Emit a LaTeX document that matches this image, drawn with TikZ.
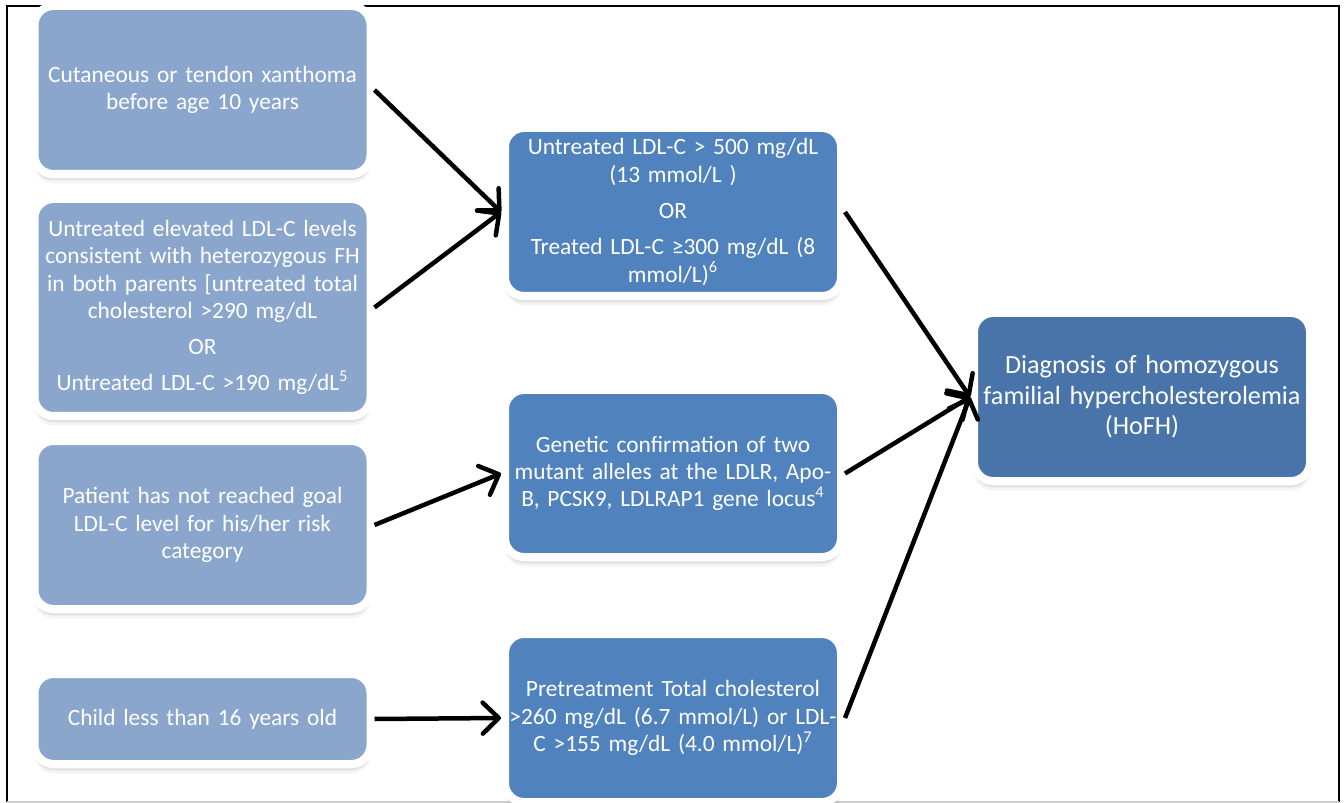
\documentclass[tikz,border=0pt]{standalone}
\usepackage{fontspec}
\setmainfont{Carlito}
\usetikzlibrary{positioning, arrows.meta, shadows}

\definecolor{critlight}{HTML}{8BA6CD}
\definecolor{critmid}{HTML}{5082BE}
\definecolor{critdark}{HTML}{4874AA}

\begin{document}
\begin{tikzpicture}[
    node distance=0.34cm,
    criteria block/.style={
      rectangle,
      draw=white,
      fill=critlight,
      line width=0.16cm,
      rounded corners=0.38cm,
      align=center,
      text width=6.7cm,
      minimum width=6.72cm,
      minimum height=3.36cm,
      inner xsep=0.01cm,
      text=white,
      font=\fontsize{13.3}{15.6}\selectfont,
      drop shadow={shadow xshift=0cm, shadow yshift=-0.13cm, opacity=0.14},
      drop shadow={shadow xshift=0cm, shadow yshift=-0.19cm, opacity=0.09}
    },
    criteria arrow/.style={
      -{Straight Barb[length=0.32cm, width=0.62cm, round]},
      line width=0.09cm,
      color=black
    }
  ]

    \useasboundingbox (0,0) rectangle (26.88,-16.06);

    % frame
    \draw[line width=0.04cm] (0.14,-16.04) -- (0.14,-0.12) -- (26.78,-0.12) -- (26.78,-16.04);
    \draw[line width=0.04cm, black!20] (0.14,-16.04) -- (26.78,-16.04);

    % left column
    \node[criteria block] (xanthoma) at (4.05,-1.8) {
      Cutaneous or tendon xanthoma\\
      before age 10 years
    };

    \node[criteria block, minimum height=4.34cm, below=of xanthoma] (parents) {
      Untreated elevated LDL-C levels\\
      consistent with heterozygous FH\\
      in both parents [untreated total\\
      cholesterol >290 mg/dL\\[5pt]
      OR\\[5pt]
      Untreated LDL-C >190 mg/dL\textsuperscript{5}
    };

    \node[criteria block, below=of parents] (goal) {
      Patient has not reached goal\\
      LDL-C level for his/her risk\\
      category
    };

    \node[criteria block, minimum height=1.8cm, below=1.14cm of goal] (child) {
      Child less than 16 years old
    };

    % middle column
    \node[criteria block, fill=critmid] (ldl) at (13.46,-4.24) {
      Untreated LDL-C > 500 mg/dL\\
      (13 mmol/L )\\[5pt]
      OR\\[5pt]
      Treated LDL-C ≥300 mg/dL (8\\
      mmol/L)\textsuperscript{6}
    };

    \node[criteria block, fill=critmid, minimum height=3.34cm, below=1.72cm of ldl] (genetic) {
      Genetic confirmation of two\\
      mutant alleles at the LDLR, Apo-\\
      B, PCSK9, LDLRAP1 gene locus\textsuperscript{4}
    };

    \node[criteria block, fill=critmid, below=1.38cm of genetic] (pretreat) {
      Pretreatment Total cholesterol\\
      >260 mg/dL (6.7 mmol/L) or LDL-\\
      C >155 mg/dL (4.0 mmol/L)\textsuperscript{7}
    };

    % diagnosis
    \node[criteria block, fill=critdark, font=\fontsize{14.9}{17.4}\selectfont] (hofh) at (22.84,-7.94) {
      Diagnosis of homozygous\\
      familial hypercholesterolemia\\
      (HoFH)
    };

    \draw[criteria arrow] (xanthoma.east) -- (ldl.west);
    \draw[criteria arrow] (parents.east) -- (ldl.west);
    \draw[criteria arrow] (goal.east) -- (genetic.west);
    \draw[criteria arrow] (child.east) -- (pretreat.west);

    \draw[criteria arrow] (ldl.east) -- (hofh.west);
    \draw[criteria arrow] (genetic.east) -- (hofh.west);
    \draw[criteria arrow] (pretreat.east) -- (hofh.west);

  \end{tikzpicture}
\end{document}
